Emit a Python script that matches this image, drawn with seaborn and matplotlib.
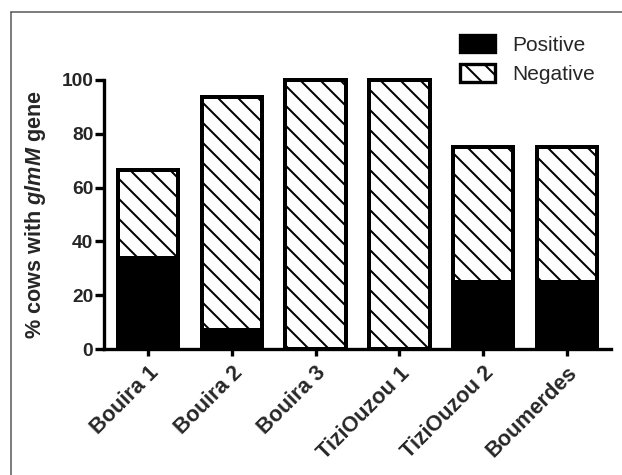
import matplotlib
matplotlib.use("Agg")
import matplotlib.pyplot as plt
import seaborn as sns
import pandas as pd
from matplotlib.patches import Patch
from matplotlib.lines import Line2D

categories = ["Bouira 1", "Bouira 2", "Bouira 3", "TiziOuzou 1", "TiziOuzou 2", "Boumerdes"]
positive = [34, 7, 0, 0, 25, 25]
negative = [32.7, 86.7, 100, 100, 50, 50]
yticks = [0, 20, 40, 60, 80, 100]

total = [p + n for p, n in zip(positive, negative)]
df = pd.DataFrame({"site": categories, "positive": positive, "total": total})

sns.set_theme(style="ticks")
plt.rcParams["font.family"] = ["Liberation Sans", "DejaVu Sans"]
plt.rcParams["mathtext.fontset"] = "custom"
plt.rcParams["mathtext.it"] = "Liberation Sans:italic:bold"
plt.rcParams["mathtext.rm"] = "Liberation Sans:bold"
plt.rcParams["hatch.color"] = "black"
plt.rcParams["hatch.linewidth"] = 1.2

DPI = 120
W, H = 622, 475
fig = plt.figure(figsize=(W / DPI, H / DPI), dpi=DPI)
YTOP = 102
ax = fig.add_axes([104 / W, (H - 349) / H, 507 / W, (349 - 74.6) / H])

sns.barplot(data=df, x="site", y="total", ax=ax, color="white", edgecolor="black",
            linewidth=2.4, hatch="\\\\", width=0.72, saturation=1)
sns.barplot(data=df, x="site", y="positive", ax=ax, color="black", edgecolor="black",
            linewidth=2.4, width=0.72, saturation=1)

ax.set_ylim(0, YTOP)
ax.set_xlim(-0.524, 5.524)
ax.set_yticks(yticks)
ax.set_yticklabels([str(t) for t in yticks], fontsize=11.5, fontweight="bold")
ax.set_xticks(range(len(categories)))
ax.set_xticklabels(categories, rotation=45, ha="right", rotation_mode="anchor",
                   fontsize=13, fontweight="bold")
ax.set_xlabel("")
ax.set_ylabel(r"% cows with $\mathit{glmM}$ gene", fontsize=13, fontweight="bold")
ax.yaxis.set_label_coords((48 - 104) / 507, 50 / YTOP)

sns.despine(ax=ax)
ax.spines["left"].set_bounds(0, 100)
for s in ["left", "bottom"]:
    ax.spines[s].set_linewidth(2.0)
    ax.spines[s].set_color("black")
ax.tick_params(axis="y", length=5.4, width=2.0, color="black", pad=1)
ax.tick_params(axis="x", length=4.2, width=2.0, color="black", pad=4)

handles = [Patch(facecolor="black", edgecolor="black", linewidth=2.0),
           Patch(facecolor="white", edgecolor="black", linewidth=2.0, hatch="\\\\")]
fig.legend(handles, ["Positive", "Negative"], loc="upper left",
           bbox_to_anchor=(460 / W, 1 - 35 / H), frameon=False, borderpad=0,
           borderaxespad=0, fontsize=12.5, handlelength=1.7, handleheight=0.9,
           labelspacing=0.45, handletextpad=0.8)

# figure frame (top and left)
fig.add_artist(Line2D([10.5 / W, 10.5 / W], [0, 1 - 12 / H], transform=fig.transFigure,
                      color="#555555", linewidth=0.9))
fig.add_artist(Line2D([10.5 / W, 1], [1 - 12 / H, 1 - 12 / H], transform=fig.transFigure,
                      color="#555555", linewidth=0.9))

fig.savefig("out.png", dpi=DPI, facecolor="white")
